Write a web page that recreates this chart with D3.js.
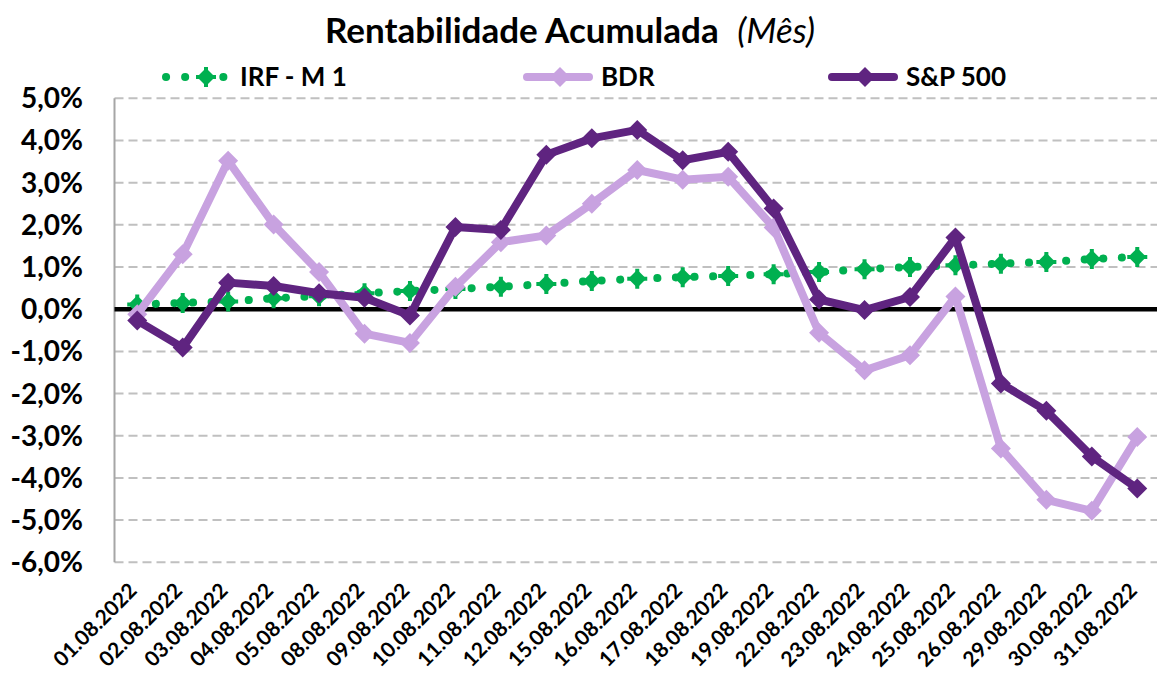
<!DOCTYPE html>
<html lang="pt">
<head>
<meta charset="utf-8">
<title>Rentabilidade Acumulada</title>
<script src="https://d3js.org/d3.v7.min.js"></script>
<style>
  body { margin: 0; background: #fff; }
  text { font-family: Lato, "Open Sans", sans-serif; }
</style>
</head>
<body>
<script>
// categories (trading days)
var dates = ["01.08.2022","02.08.2022","03.08.2022","04.08.2022","05.08.2022","08.08.2022",
  "09.08.2022","10.08.2022","11.08.2022","12.08.2022","15.08.2022","16.08.2022","17.08.2022",
  "18.08.2022","19.08.2022","22.08.2022","23.08.2022","24.08.2022","25.08.2022","26.08.2022",
  "29.08.2022","30.08.2022","31.08.2022"];

// accumulated return, %
var irfM1 = [0.11,0.15,0.18,0.26,0.31,0.38,0.43,0.48,0.53,0.60,0.67,0.72,0.76,0.79,0.83,
  0.88,0.95,1.00,1.04,1.08,1.12,1.19,1.24];
var bdr = [-0.12,1.30,3.52,2.01,0.88,-0.58,-0.80,0.53,1.59,1.75,2.50,3.30,3.07,3.14,1.94,
  -0.56,-1.45,-1.09,0.30,-3.30,-4.52,-4.78,-3.03];
var sp500 = [-0.27,-0.91,0.63,0.55,0.38,0.27,-0.15,1.95,1.88,3.66,4.05,4.25,3.53,3.73,2.39,
  0.23,-0.02,0.29,1.70,-1.76,-2.41,-3.49,-4.25];

var yTicks = [5,4,3,2,1,0,-1,-2,-3,-4,-5,-6];

var W = 1157, H = 673;
var svg = d3.select("body").append("svg").attr("width", W).attr("height", H);

var x = d3.scaleBand().domain(dates).range([114.5, 1160]);
var y = d3.scaleLinear().domain([-6, 5]).range([562.3, 98.3]);
var cx = function(d) { return x(d) + x.bandwidth() / 2; };

var fmt = function(v) { return v.toFixed(1).replace(".", ",") + "%"; };

// gridlines
svg.append("g").selectAll("line").data(yTicks.filter(function(t){ return t !== 0; }))
  .enter().append("line")
  .attr("x1", 114.5).attr("x2", W)
  .attr("y1", function(d){ return y(d); }).attr("y2", function(d){ return y(d); })
  .attr("stroke", "#c0c0c0").attr("stroke-width", 2).attr("stroke-dasharray", "9,5");

// y labels
svg.append("g").selectAll("text").data(yTicks).enter().append("text")
  .attr("x", 83).attr("y", function(d){ return y(d) + 10; })
  .attr("text-anchor", "end").attr("font-size", 28).attr("font-weight", "bold")
  .text(fmt);

// left axis line
svg.append("line").attr("x1", 114.5).attr("x2", 114.5).attr("y1", y(5)).attr("y2", y(-6))
  .attr("stroke", "#a6a6a6").attr("stroke-width", 2);

// zero line
svg.append("line").attr("x1", 114.5).attr("x2", W).attr("y1", y(0)).attr("y2", y(0))
  .attr("stroke", "#000").attr("stroke-width", 4.5);

// x labels
svg.append("g").selectAll("text").data(dates).enter().append("text")
  .attr("transform", function(d){ return "translate(" + (cx(d) + 1) + ",592) rotate(-45)"; })
  .attr("text-anchor", "end").attr("font-size", 21).attr("font-weight", "bold")
  .text(function(d){ return d; });

var line = d3.line().x(function(d, i){ return cx(dates[i]); }).y(function(d){ return y(d); });

function diamond(r) { return "M0," + (-r) + "L" + r + ",0L0," + r + "L" + (-r) + ",0Z"; }

var green = "#00b050", light = "#c8a2e0", dark = "#5f2480";

// IRF - M 1 (round dotted)
svg.append("path").datum(irfM1).attr("d", line).attr("fill", "none")
  .attr("stroke", green).attr("stroke-width", 8).attr("stroke-linecap", "round")
  .attr("stroke-dasharray", "0.1,18.5");
function irfMarker(g) {
  g.append("path").attr("d", diamond(9)).attr("fill", green);
  g.append("path").attr("d", "M-10,0H10M0,-10V10").attr("stroke", green).attr("stroke-width", 4);
}
svg.append("g").selectAll("g").data(irfM1).enter().append("g")
  .attr("transform", function(d, i){ return "translate(" + cx(dates[i]) + "," + y(d) + ")"; })
  .call(irfMarker);

// BDR and S&P 500
[[bdr, light], [sp500, dark]].forEach(function(s) {
  svg.append("path").datum(s[0]).attr("d", line).attr("fill", "none")
    .attr("stroke", s[1]).attr("stroke-width", 8).attr("stroke-linejoin", "round");
  svg.append("g").selectAll("path").data(s[0]).enter().append("path")
    .attr("d", diamond(10))
    .attr("transform", function(d, i){ return "translate(" + cx(dates[i]) + "," + y(d) + ")"; })
    .attr("fill", s[1]);
});

// title
var title = svg.append("text").attr("x", 570).attr("y", 43).attr("text-anchor", "middle")
  .attr("font-size", 35);
title.append("tspan").attr("font-weight", "bold").text("Rentabilidade Acumulada ");
title.append("tspan").attr("font-style", "italic").attr("dx", 10).text("(Mês)");

// legend
var legend = [
  {name: "IRF - M 1", color: green, x0: 166, dotted: true},
  {name: "BDR", color: light, x0: 527},
  {name: "S&P 500", color: dark, x0: 832}
];
var ly = 77;
legend.forEach(function(l) {
  var g = svg.append("g");
  if (l.dotted) {
    g.append("line").attr("x1", l.x0).attr("x2", l.x0 + 62).attr("y1", ly).attr("y2", ly)
      .attr("stroke", l.color).attr("stroke-width", 8).attr("stroke-linecap", "round")
      .attr("stroke-dasharray", "0.1,19");
    g.append("g").attr("transform", "translate(" + (l.x0 + 40) + "," + ly + ")").call(irfMarker);
  } else {
    g.append("line").attr("x1", l.x0).attr("x2", l.x0 + 62).attr("y1", ly).attr("y2", ly)
      .attr("stroke", l.color).attr("stroke-width", 8).attr("stroke-linecap", "round");
    g.append("path").attr("d", diamond(10))
      .attr("transform", "translate(" + (l.x0 + 33) + "," + ly + ")").attr("fill", l.color);
  }
  g.append("text").attr("x", l.x0 + 74).attr("y", ly + 9).attr("font-size", 26)
    .attr("font-weight", "bold").text(l.name);
});
</script>
</body>
</html>
